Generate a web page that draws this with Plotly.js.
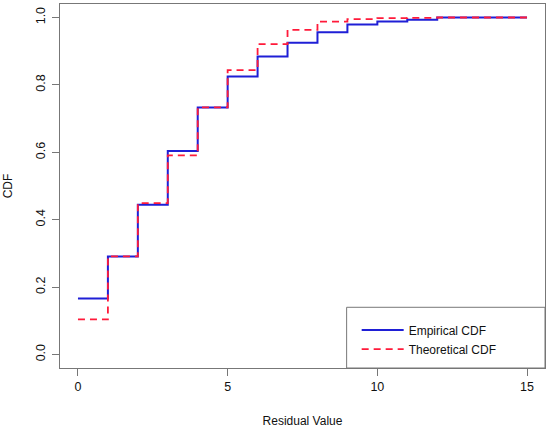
<!DOCTYPE html>
<html>
<head>
<meta charset="utf-8">
<script src="https://cdn.plot.ly/plotly-3.0.1.min.js"></script>
<style>
html,body{margin:0;padding:0;background:#fff;}
#chart{width:550px;height:428px;}
</style>
</head>
<body>
<div id="chart"></div>
<script>
// Residual values (step positions)
var residualValues = [0, 1, 2, 3, 4, 5, 6, 7, 8, 9, 10, 11, 12, 13, 14, 15];
// Empirical CDF values at each residual value
var empiricalCDF = [0.166, 0.291, 0.444, 0.604, 0.733, 0.825, 0.884, 0.925, 0.956, 0.979, 0.988, 0.993, 1.0, 1.0, 1.0, 1.0];
// Theoretical CDF values at each residual value
var theoreticalCDF = [0.104, 0.291, 0.449, 0.591, 0.733, 0.844, 0.921, 0.963, 0.988, 0.995, 0.998, 0.999, 1.0, 1.0, 1.0, 1.0];
// Axis ticks
var xTicks = [0, 5, 10, 15];
var yTicks = [0, 0.2, 0.4, 0.6, 0.8, 1.0];
var yTickLabels = ['0.0', '0.2', '0.4', '0.6', '0.8', '1.0'];

var FONT = 'Liberation Sans, Arial, sans-serif';

var traces = [
  {
    x: residualValues, y: empiricalCDF, type: 'scatter', mode: 'lines',
    name: 'Empirical CDF',
    line: {shape: 'hv', color: '#1f1fd6', width: 2}
  },
  {
    x: residualValues, y: theoreticalCDF, type: 'scatter', mode: 'lines',
    name: 'Theoretical CDF',
    line: {shape: 'hv', color: '#ff1a3a', width: 1.8, dash: '7px,5px'}
  }
];

var layout = {
  width: 550, height: 428,
  margin: {l: 60, r: 4.5, t: 4, b: 59.5},
  paper_bgcolor: '#fff', plot_bgcolor: '#fff',
  font: {family: FONT, size: 12, color: '#111'},
  showlegend: true,
  legend: {
    x: 0.6117, y: 0.1440, xanchor: 'left', yanchor: 'top',
    bgcolor: 'rgba(0,0,0,0)', borderwidth: 0,
    itemwidth: 42,
    font: {family: FONT, size: 12, color: '#111'},
    tracegroupgap: 0
  },
  xaxis: {
    range: [-0.6, 15.6], tickvals: xTicks, ticktext: xTicks.map(String),
    ticks: 'outside', ticklen: 7, tickcolor: '#777', tickwidth: 1,
    showline: true, mirror: true, linecolor: '#777', linewidth: 1,
    showgrid: false, zeroline: false,
    tickfont: {family: FONT, size: 12.5, color: '#111'},
    title: {text: 'Residual Value', font: {family: FONT, size: 12, color: '#111'}, standoff: 25}
  },
  yaxis: {
    range: [-0.04, 1.04], tickvals: yTicks, ticktext: yTickLabels,
    tickangle: -90,
    ticks: 'outside', ticklen: 7, tickcolor: '#777', tickwidth: 1,
    ticklabelstandoff: 2,
    showline: true, mirror: true, linecolor: '#777', linewidth: 1,
    showgrid: false, zeroline: false,
    tickfont: {family: FONT, size: 12.5, color: '#111'},
    title: {text: 'CDF', font: {family: FONT, size: 12, color: '#111'}, standoff: 18}
  },
  shapes: [
    {type: 'rect', xref: 'paper', yref: 'paper', x0: 0.591, x1: 1, y0: 0, y1: 0.1668,
     line: {color: '#777', width: 1}, fillcolor: 'rgba(0,0,0,0)'}
  ]
};

Plotly.newPlot('chart', traces, layout, {displayModeBar: false, staticPlot: true});
</script>
</body>
</html>
